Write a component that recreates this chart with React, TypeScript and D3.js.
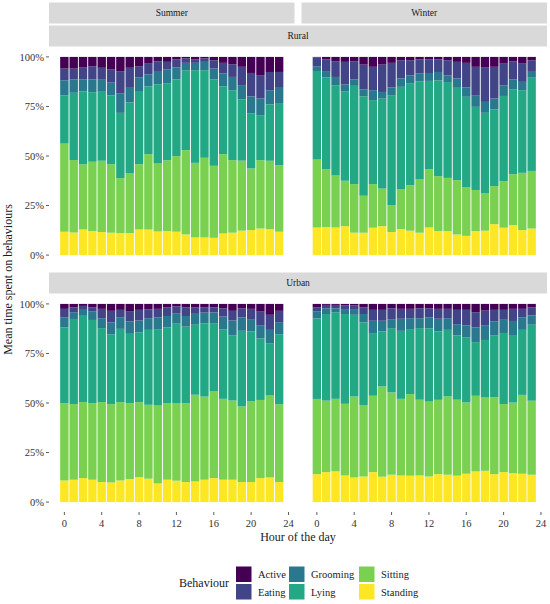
import * as d3 from "d3";

const WIDTH = 550;
const HEIGHT = 604;
const FONT = "'Liberation Serif', 'Times New Roman', serif";

// layout of the facet grid
const COL_LEFT = [49, 301.5];
const PANEL_W = 245.5;
const ROW_TOP = [47, 294];
const PANEL_H = 218;

const HOURS = [0, 1, 2, 3, 4, 5, 6, 7, 8, 9, 10, 11, 12, 13, 14, 15, 16, 17, 18, 19, 20, 21, 22, 23];
const X_TICKS = [0, 4, 8, 12, 16, 20, 24];
const Y_TICKS = [0, 0.25, 0.5, 0.75, 1];
const SEASONS = ["Summer", "Winter"];
const AREAS = ["Rural", "Urban"];
const BEHAVIOURS = ["Active", "Eating", "Grooming", "Lying", "Sitting", "Standing"];
const COLOURS = ["#440154", "#414487", "#2A788E", "#22A884", "#7AD151", "#FDE725"];

// Rural - Summer (% of time per hour)
const ruralSummerActive = [5.9, 5.9, 5.4, 4.7, 5.5, 6.4, 7.2, 5.5, 4.7, 3.4, 2.2, 2.5, 1.3, 0.8, 1.3, 0.8, 1.7, 3.0, 3.7, 5.0, 8.1, 9.2, 7.6, 7.6];
const ruralSummerEating = [5.9, 5.5, 5.9, 6.7, 5.7, 6.6, 11.3, 10.1, 5.7, 5.4, 4.9, 3.9, 4.0, 2.2, 1.7, 1.7, 4.2, 5.4, 6.4, 9.2, 11.8, 11.8, 9.2, 7.6];
const ruralSummerGrooming = [7.6, 6.7, 6.1, 6.4, 6.4, 6.4, 9.7, 7.4, 7.2, 6.1, 6.7, 7.1, 6.1, 3.7, 3.7, 4.2, 5.5, 6.4, 6.7, 7.2, 8.7, 8.4, 7.2, 8.1];
const ruralSummerLying = [24.4, 33.9, 36.8, 35.1, 34.8, 34.8, 32.9, 35.6, 36.5, 34.3, 40.0, 38.7, 38.7, 40.3, 46.7, 44.2, 43.5, 34.3, 35.3, 30.9, 27.7, 22.7, 28.4, 31.4];
const ruralSummerSitting = [44.5, 36.5, 32.9, 35.0, 36.0, 34.6, 27.7, 30.3, 32.9, 38.0, 34.3, 35.8, 38.2, 42.5, 37.6, 40.2, 36.3, 40.0, 36.6, 35.3, 31.1, 34.5, 34.5, 33.6];
const ruralSummerStanding = [11.8, 11.4, 12.9, 12.1, 11.6, 11.3, 11.1, 11.1, 12.9, 12.9, 11.9, 12.1, 11.8, 10.4, 8.9, 8.9, 8.7, 10.9, 11.3, 12.3, 12.6, 13.4, 13.1, 11.8];

// Rural - Winter
const ruralWinterActive = [0.3, 1.3, 2.2, 2.5, 2.2, 3.9, 5.0, 3.9, 3.0, 1.7, 1.7, 1.3, 1.2, 1.2, 1.7, 2.5, 3.0, 5.0, 5.4, 5.0, 3.4, 2.2, 3.4, 1.7];
const ruralWinterEating = [4.4, 6.2, 7.9, 11.3, 9.2, 12.6, 11.8, 13.8, 12.4, 9.2, 7.6, 7.1, 6.9, 6.4, 7.6, 8.4, 12.4, 14.3, 17.3, 16.0, 10.9, 9.2, 9.2, 5.4];
const ruralWinterGrooming = [2.4, 2.9, 4.2, 3.5, 3.2, 3.4, 5.0, 3.4, 3.9, 4.2, 4.2, 3.9, 4.0, 4.2, 3.4, 4.7, 4.7, 5.9, 5.5, 5.5, 5.4, 4.9, 4.2, 3.4];
const ruralWinterLying = [44.7, 46.2, 45.5, 45.2, 49.6, 50.3, 42.4, 45.4, 55.5, 51.8, 51.3, 49.6, 44.5, 48.4, 48.4, 46.6, 45.7, 42.0, 40.7, 38.7, 43.0, 42.9, 41.7, 47.1];
const ruralWinterSitting = [34.3, 29.2, 26.2, 22.9, 24.5, 18.7, 22.0, 19.0, 13.6, 20.0, 23.0, 26.9, 29.4, 27.7, 26.9, 27.4, 24.4, 20.7, 18.8, 19.2, 23.5, 25.7, 28.9, 29.1];
const ruralWinterStanding = [13.9, 14.1, 13.9, 14.6, 11.3, 11.3, 13.8, 14.6, 11.6, 13.1, 12.3, 11.3, 13.9, 12.1, 12.1, 10.4, 9.7, 12.1, 12.3, 15.6, 13.8, 15.1, 12.6, 13.4];

// Urban - Summer
const urbanSummerActive = [2.5, 1.8, 1.0, 1.7, 2.5, 3.5, 3.0, 3.9, 3.0, 2.7, 2.5, 1.7, 1.3, 1.7, 1.8, 1.7, 1.8, 2.2, 3.5, 2.2, 2.5, 3.9, 5.5, 3.5];
const urbanSummerEating = [4.4, 2.4, 2.0, 2.2, 4.7, 5.9, 3.7, 5.0, 5.4, 4.5, 4.4, 4.4, 3.4, 4.4, 3.2, 2.7, 2.5, 4.2, 4.9, 4.7, 5.5, 7.1, 7.6, 5.7];
const urbanSummerGrooming = [4.9, 3.4, 3.0, 4.2, 5.0, 5.9, 5.9, 6.2, 5.9, 5.9, 6.1, 5.7, 5.0, 5.4, 5.5, 5.4, 5.4, 6.4, 7.6, 6.7, 5.9, 6.4, 6.7, 6.1];
const urbanSummerLying = [38.3, 43.0, 43.5, 42.0, 37.3, 35.3, 37.0, 35.0, 35.3, 37.8, 38.3, 38.3, 40.3, 38.7, 35.3, 37.0, 34.5, 35.1, 32.8, 38.2, 35.3, 31.1, 26.4, 35.3];
const urbanSummerSitting = [39.0, 38.2, 38.3, 38.7, 40.3, 39.5, 39.5, 38.3, 37.8, 37.3, 39.3, 38.7, 39.2, 39.8, 43.7, 42.0, 43.7, 40.8, 40.0, 38.2, 40.7, 39.5, 41.3, 39.3];
const urbanSummerStanding = [10.9, 11.3, 12.1, 11.3, 10.1, 9.9, 10.9, 11.6, 12.6, 11.8, 9.4, 11.3, 10.8, 10.1, 10.4, 11.3, 12.1, 11.3, 11.3, 10.1, 10.1, 12.1, 12.4, 10.1];

// Urban - Winter
const urbanWinterActive = [1.7, 0.5, 0.5, 0.8, 0.8, 1.7, 3.0, 3.0, 2.2, 2.5, 2.5, 2.2, 2.2, 2.5, 2.5, 3.0, 3.0, 4.2, 3.4, 3.0, 3.0, 2.5, 2.5, 1.8];
const urbanWinterEating = [2.2, 1.7, 1.7, 1.8, 1.8, 3.4, 5.5, 5.5, 5.5, 5.0, 4.7, 5.0, 4.7, 5.0, 4.7, 7.2, 7.9, 7.7, 7.6, 5.9, 5.0, 6.1, 4.4, 4.0];
const urbanWinterGrooming = [3.4, 2.9, 2.0, 2.5, 2.9, 4.2, 6.2, 5.4, 4.5, 6.1, 5.5, 5.0, 5.4, 6.4, 5.9, 5.7, 5.9, 7.4, 7.2, 7.1, 6.7, 7.1, 6.2, 4.7];
const urbanWinterLying = [40.7, 43.7, 43.7, 45.2, 41.2, 41.7, 31.6, 27.7, 32.4, 34.3, 32.8, 36.1, 37.0, 34.5, 33.6, 32.4, 32.9, 27.1, 29.1, 31.1, 35.8, 34.1, 32.8, 38.3];
const urbanWinterSitting = [38.0, 36.1, 36.6, 36.1, 40.8, 36.1, 38.5, 45.5, 41.5, 38.7, 41.2, 38.2, 37.8, 37.5, 39.5, 38.3, 36.0, 38.2, 37.0, 38.8, 34.3, 35.6, 39.8, 37.3];
const urbanWinterStanding = [14.1, 15.1, 15.5, 13.4, 12.4, 12.9, 15.1, 12.8, 13.8, 13.4, 13.3, 13.4, 12.9, 14.1, 13.8, 13.3, 14.3, 15.5, 15.8, 14.1, 15.1, 14.6, 14.3, 13.8];

// panels[row][col] -> one array per behaviour, same order as BEHAVIOURS
const PANELS = [
  [
    [ruralSummerActive, ruralSummerEating, ruralSummerGrooming, ruralSummerLying, ruralSummerSitting, ruralSummerStanding],
    [ruralWinterActive, ruralWinterEating, ruralWinterGrooming, ruralWinterLying, ruralWinterSitting, ruralWinterStanding],
  ],
  [
    [urbanSummerActive, urbanSummerEating, urbanSummerGrooming, urbanSummerLying, urbanSummerSitting, urbanSummerStanding],
    [urbanWinterActive, urbanWinterEating, urbanWinterGrooming, urbanWinterLying, urbanWinterSitting, urbanWinterStanding],
  ],
];

const colour = d3.scaleOrdinal<string, string>().domain(BEHAVIOURS).range(COLOURS);

const makeX = (left: number) =>
  d3.scaleLinear().domain([-1.645, 24.645]).range([left, left + PANEL_W]);
const makeY = (top: number) =>
  d3.scaleLinear().domain([-0.05, 1.05]).range([top + PANEL_H, top]);

const Panel = ({ left, top, values }) => {
  const xScale = makeX(left);
  const yScale = makeY(top);
  const rows = HOURS.map((h, i) => {
    const row: any = { hour: h };
    BEHAVIOURS.forEach((b, j) => (row[b] = values[j][i]));
    return row;
  });
  // stack from the bottom: Standing first, Active on top
  const series = d3
    .stack<any>()
    .keys([...BEHAVIOURS].reverse())
    .offset(d3.stackOffsetExpand)(rows);
  const bw = xScale(0.9) - xScale(0);

  return (
    <g>
      <rect x={left} y={top} width={PANEL_W} height={PANEL_H} fill="white" />
      {series.map((s) => (
        <g key={s.key} fill={colour(s.key)}>
          {s.map((d, i) => (
            <rect
              key={i}
              x={xScale(d.data.hour) - bw / 2}
              y={yScale(d[1])}
              width={bw}
              height={yScale(d[0]) - yScale(d[1])}
            />
          ))}
        </g>
      ))}
    </g>
  );
};

const Strip = ({ x, y, w, label }) => (
  <g>
    <rect x={x} y={y} width={w} height={21} fill="#d9d9d9" />
    <text
      x={x + w / 2}
      y={y + 10.5}
      dy="0.35em"
      textAnchor="middle"
      fontSize={9.5}
      fill="#1a1a1a"
    >
      {label}
    </text>
  </g>
);

const YAxis = ({ top }) => {
  const yScale = makeY(top);
  const x0 = COL_LEFT[0];
  return (
    <g>
      {Y_TICKS.map((t) => (
        <g key={t} transform={`translate(0,${yScale(t)})`}>
          <line x1={x0 - 3} x2={x0} stroke="#333" strokeWidth={0.8} />
          <text x={x0 - 5} dy="0.35em" textAnchor="end" fontSize={10.5} fill="#333">
            {d3.format(".0%")(t)}
          </text>
        </g>
      ))}
    </g>
  );
};

const XAxis = ({ left }) => {
  const xScale = makeX(left);
  const y0 = ROW_TOP[1] + PANEL_H;
  return (
    <g>
      {X_TICKS.map((t) => (
        <g key={t} transform={`translate(${xScale(t)},0)`}>
          <line y1={y0} y2={y0 + 3} stroke="#333" strokeWidth={0.8} />
          <text y={y0 + 15} textAnchor="middle" fontSize={10.5} fill="#333">
            {t}
          </text>
        </g>
      ))}
    </g>
  );
};

const Legend = () => {
  const colX = [236, 289, 359];
  const rowY = [566.5, 584];
  return (
    <g>
      <text x={179} y={587} fontSize={12} fill="#1a1a1a">
        Behaviour
      </text>
      {BEHAVIOURS.map((b, i) => {
        const cx = colX[Math.floor(i / 2)];
        const cy = rowY[i % 2];
        return (
          <g key={b}>
            <rect x={cx} y={cy} width={15.5} height={15.5} fill={colour(b)} />
            <text x={cx + 22} y={cy + 11.5} fontSize={10.5} fill="#1a1a1a">
              {b}
            </text>
          </g>
        );
      })}
    </g>
  );
};

export default function App() {
  const fullW = COL_LEFT[1] + PANEL_W - COL_LEFT[0];
  return (
    <div style={{ position: "absolute", left: 0, top: 0 }}>
      <svg width={WIDTH} height={HEIGHT} fontFamily={FONT} style={{ display: "block" }}>
        <rect width={WIDTH} height={HEIGHT} fill="white" />
        {SEASONS.map((s, c) => (
          <Strip key={s} x={COL_LEFT[c]} y={2.5} w={PANEL_W} label={s} />
        ))}
        {AREAS.map((a, r) => (
          <Strip key={a} x={COL_LEFT[0]} y={ROW_TOP[r] - 21.5} w={fullW} label={a} />
        ))}
        {AREAS.map((a, r) =>
          SEASONS.map((s, c) => (
            <Panel key={a + s} left={COL_LEFT[c]} top={ROW_TOP[r]} values={PANELS[r][c]} />
          ))
        )}
        {ROW_TOP.map((t) => (
          <YAxis key={t} top={t} />
        ))}
        {COL_LEFT.map((l) => (
          <XAxis key={l} left={l} />
        ))}
        <text
          x={(COL_LEFT[0] + COL_LEFT[1] + PANEL_W) / 2}
          y={541}
          textAnchor="middle"
          fontSize={12}
          fill="#1a1a1a"
        >
          Hour of the day
        </text>
        <text
          transform={`translate(12,${(ROW_TOP[0] + ROW_TOP[1] + PANEL_H) / 2}) rotate(-90)`}
          textAnchor="middle"
          fontSize={12}
          fill="#1a1a1a"
        >
          Mean time spent on behaviours
        </text>
        <Legend />
      </svg>
    </div>
  );
}
